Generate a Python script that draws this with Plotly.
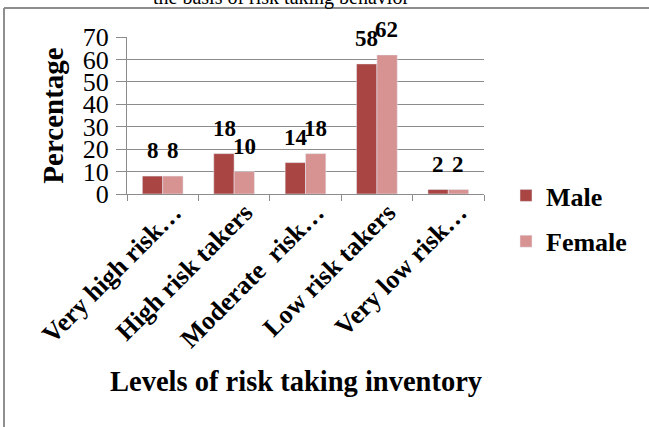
import plotly.graph_objects as go

categories = ["Very high risk…", "High risk takers", "Moderate  risk…", "Low risk takers", "Very low risk…"]
male = [8, 18, 14, 58, 2]
female = [8, 10, 18, 62, 2]
series_names = ["Male", "Female"]
y_ticks = [0, 10, 20, 30, 40, 50, 60, 70]

MALE_C = "#A94543"
FEMALE_C = "#D79392"
GRID = "#8C8C8C"
FONT = "Liberation Serif, Times New Roman, serif"

W, H = 649, 427
L, R, T, B = 127, 165, 37, 233
PW, PH = W - L - R, H - T - B

def px_x(p):
    return (p - L) / PW

def px_y(p):
    return (H - B - p) / PH

fig = go.Figure()
fig.add_trace(go.Bar(x=categories, y=male, name=series_names[0], marker_color=MALE_C,
                     legendgroup="m"))
fig.add_trace(go.Bar(x=categories, y=female, name=series_names[1], marker_color=FEMALE_C,
                     legendgroup="f"))

annotations = []
for vals, shift in ((male, -10), (female, 10)):
    for c, v in zip(categories, vals):
        annotations.append(dict(x=c, y=v, xref="x", yref="y", text=str(v), showarrow=False,
                                xshift=shift, yshift=11, yanchor="bottom",
                                font=dict(family=FONT, size=23, color="black", weight="bold")))

annotations.append(dict(x=px_x(296), y=px_y(381), xref="paper", yref="paper",
                        text="<b>Levels of risk taking inventory</b>", showarrow=False,
                        xanchor="center", yanchor="middle",
                        font=dict(family=FONT, size=28.5, color="black")))
annotations.append(dict(x=px_x(281), y=px_y(-3), xref="paper", yref="paper",
                        text="the basis of risk taking behavior", showarrow=False,
                        xanchor="center", yanchor="middle",
                        font=dict(family=FONT, size=20, color="black")))

shapes = [
    dict(type="rect", xref="paper", yref="paper", x0=px_x(53), x1=px_x(400), y0=px_y(0), y1=px_y(-10),
         fillcolor="#DCDCDC", line=dict(width=0), layer="below"),
    dict(type="rect", xref="paper", yref="paper", x0=px_x(53), x1=px_x(110), y0=px_y(0), y1=px_y(-10),
         fillcolor="#C4C4C4", line=dict(width=0), layer="below"),
    dict(type="rect", xref="paper", yref="paper", x0=px_x(53), x1=px_x(70), y0=px_y(0), y1=px_y(-10),
         fillcolor="#AEAEAE", line=dict(width=0), layer="below"),
    dict(type="line", xref="paper", yref="paper", x0=px_x(4), x1=px_x(660), y0=px_y(8), y1=px_y(8),
         line=dict(color="#8E8E8E", width=2)),
    dict(type="line", xref="paper", yref="paper", x0=px_x(4), x1=px_x(4), y0=px_y(8), y1=px_y(440),
         line=dict(color="#8E8E8E", width=2)),
]

fig.update_layout(
    width=W, height=H,
    margin=dict(l=L, r=R, t=T, b=B, autoexpand=False),
    paper_bgcolor="white", plot_bgcolor="white",
    barmode="group", bargap=0.43, bargroupgap=0,
    font=dict(family=FONT, color="black"),
    showlegend=True,
    legend=dict(x=px_x(506), y=px_y(172), xanchor="left", yanchor="top",
                font=dict(family=FONT, size=26, color="black", weight="bold"),
                tracegroupgap=9, bgcolor="rgba(0,0,0,0)"),
    annotations=annotations,
    shapes=shapes,
)
fig.update_xaxes(type="category", tickangle=-45, tickson="boundaries", ticks="outside", ticklen=6,
                 tickcolor=GRID, showline=True, linecolor=GRID, linewidth=1, showgrid=False,
                 ticklabelshift=11, ticklabelstandoff=-8,
                 tickfont=dict(family=FONT, size=26, color="black", weight="bold"))
fig.update_yaxes(range=[0, 70], tickvals=y_ticks, ticks="outside", ticklen=10, tickcolor=GRID,
                 showline=True, linecolor=GRID, linewidth=1, showgrid=True, gridcolor=GRID,
                 gridwidth=1, zeroline=False, ticklabelstandoff=2,
                 tickfont=dict(family=FONT, size=26, color="black"),
                 title=dict(text="<b>Percentage</b>", standoff=10,
                            font=dict(family=FONT, size=29, color="black")))

fig.write_html("out.html")
